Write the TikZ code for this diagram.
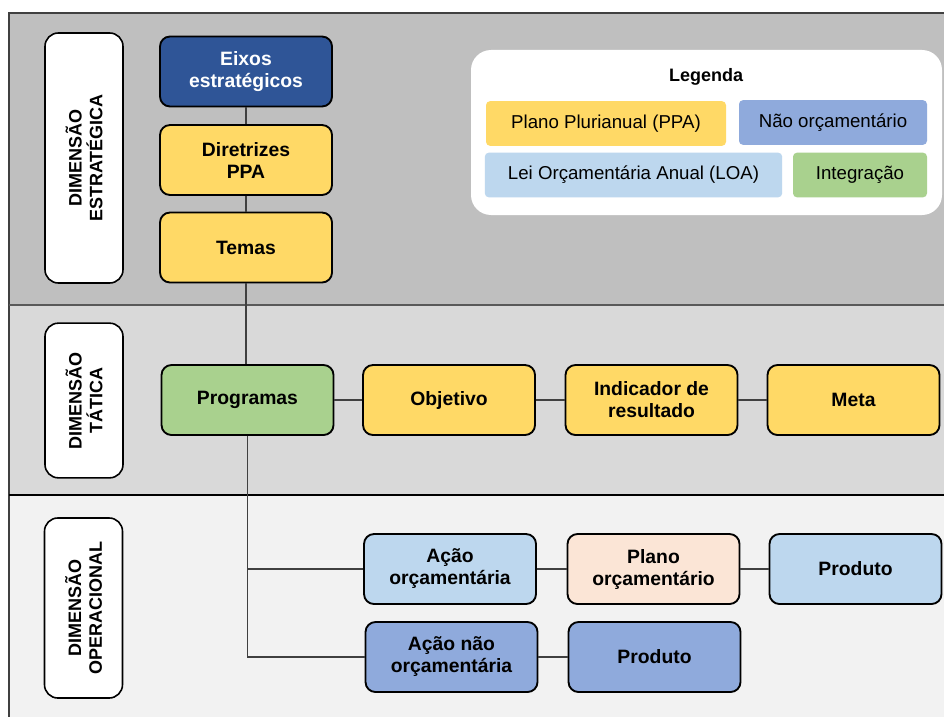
\documentclass[tikz,border=0pt]{standalone}
\usepackage{fontspec}
\setmainfont{Liberation Sans}
\definecolor{bandA}{HTML}{BFBFBF}
\definecolor{bandB}{HTML}{D9D9D9}
\definecolor{bandC}{HTML}{F2F2F2}
\definecolor{navy}{HTML}{2F5597}
\definecolor{ppa}{HTML}{FFD966}
\definecolor{integ}{HTML}{A9D18E}
\definecolor{loa}{HTML}{BDD7EE}
\definecolor{peach}{HTML}{FBE5D6}
\definecolor{naoorc}{HTML}{8FAADC}
\definecolor{linegray}{HTML}{404040}

\begin{document}
\begin{tikzpicture}[x=0.75pt, y=-0.75pt,
        box/.style={rectangle, rounded corners=7.5pt, draw=black, line width=1.4pt,
            minimum width=129pt, minimum height=52.5pt, align=center,
            font=\fontsize{14.5}{16.5}\selectfont\bfseries, inner sep=2pt},
        dim/.style={rectangle, rounded corners=10pt, draw=black, line width=1.2pt, fill=white,
            rotate=90, minimum height=58.5pt, align=center,
            font=\fontsize{13.5}{15.5}\selectfont\bfseries},
        item/.style={rectangle, rounded corners=3pt, minimum height=33.5pt,
            font=\fontsize{14}{16}\selectfont},
        link/.style={draw=linegray, line width=1.1pt}]
        \useasboundingbox (0,0) rectangle (944,717);
        \fill[white] (0,0) rectangle (944,717);

        % Bands
        \fill[bandA] (9,13) rectangle (944,305);
        \fill[bandB] (9,305) rectangle (944,495);
        \fill[bandC] (9,495) rectangle (944,717);
        \draw[line width=0.9pt, black!75] (944,13) -- (9,13) -- (9,717);
        \draw[line width=0.9pt, black!65] (9,305) -- (944,305);
        \draw[line width=1.2pt, black] (9,495) -- (944,495);

        % Dimension labels
        \node[dim, minimum width=187.5pt] (estrategica) at (84,158) {DIMENSÃO\\ESTRATÉGICA};
        \node[dim, minimum width=116pt] (tatica) at (84,400.5) {DIMENSÃO\\TÁTICA};
        \node[dim, minimum width=135pt] (operacional) at (83.5,608) {DIMENSÃO\\OPERACIONAL};

        % Legend
        \fill[white, rounded corners=15pt] (471,50) rectangle (942,215);
        \node[font=\fontsize{13.5}{16}\selectfont\bfseries] (legenda) at (706,77) {Legenda};
        \node[item, fill=ppa, minimum width=180pt] (lppa) at (606,123.5) {Plano Plurianual (PPA)};
        \node[item, fill=naoorc, minimum width=141pt] (lnao) at (833,122.5) {Não orçamentário};
        \node[item, fill=loa, minimum width=223pt] (lloa) at (633.5,175) {Lei Orçamentária Anual (LOA)};
        \node[item, fill=integ, minimum width=100.5pt] (linteg) at (860,175) {Integração};

        % Draw nodes
        \node[box, fill=navy, text=white] (eixos) at (246,71.5) {Eixos\\estratégicos};
        \node[box, fill=ppa] (diretrizes) at (246,160) {Diretrizes\\PPA};
        \node[box, fill=ppa] (temas) at (246,247.5) {Temas};
        \node[box, fill=integ] (programas) at (247.5,400) {Programas};
        \node[box, fill=ppa] (objetivo) at (449,400) {Objetivo};
        \node[box, fill=ppa] (indicador) at (651.5,400) {Indicador de\\resultado};
        \node[box, fill=ppa] (meta) at (853.5,400) {Meta};
        \node[box, fill=loa] (acaoorc) at (450,569) {Ação\\orçamentária};
        \node[box, fill=peach] (planoorc) at (653.5,569) {Plano\\orçamentário};
        \node[box, fill=loa] (produtoA) at (855.5,569) {Produto};
        \node[box, fill=naoorc] (acaonao) at (451.5,657) {Ação não\\orçamentária};
        \node[box, fill=naoorc] (produtoB) at (654.5,657) {Produto};

        % Draw connections
        \draw[link] (eixos) -- (diretrizes);
        \draw[link] (diretrizes) -- (temas);
        \draw[link] (temas.south) -- (temas.south |- programas.north);
        \draw[link] (programas) -- (objetivo);
        \draw[link] (objetivo) -- (indicador);
        \draw[link] (indicador) -- (meta);
        \draw[link] (programas.south) |- (acaonao.west);
        \draw[link] (programas.south |- acaoorc.west) -- (acaoorc.west);
        \draw[link] (acaoorc) -- (planoorc);
        \draw[link] (planoorc) -- (produtoA);
        \draw[link] (acaonao) -- (produtoB);
    \end{tikzpicture}
\end{document}
